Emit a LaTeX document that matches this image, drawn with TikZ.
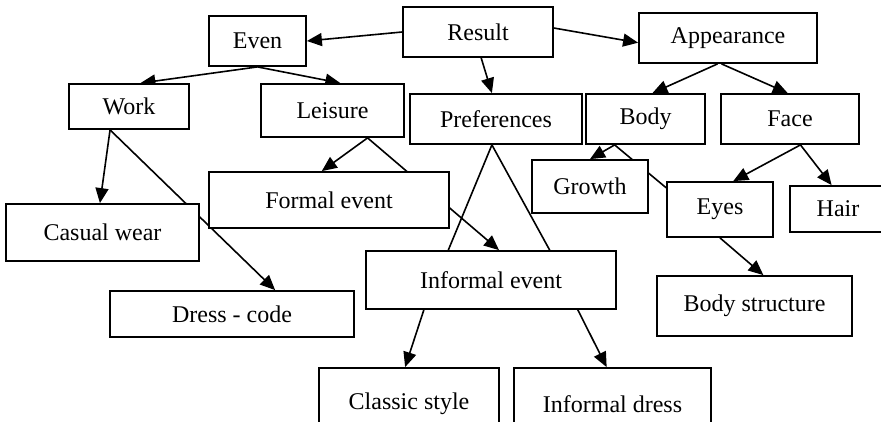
\documentclass[tikz,border=0pt]{standalone}
\usepackage{fontspec}
\setmainfont{Liberation Serif}
\usetikzlibrary{arrows.meta}
\pgfdeclarelayer{back}
\pgfsetlayers{back,main}

\begin{document}
\begin{tikzpicture}[x=1pt,y=-1pt,
  box/.style={draw,line width=1.8pt,fill=white,inner sep=0pt,font=\fontsize{24}{28}\selectfont},
  arr/.style={line width=1.6pt,-{Triangle[length=15pt,width=13pt]}},
  ln/.style={line width=1.6pt}]
\useasboundingbox (0,0) rectangle (881,421);
\clip (0,0) rectangle (881,421);
% top
\node[box,minimum width=150pt,minimum height=50pt] (result) at (478,32) {Result};
\node[box,minimum width=97pt,minimum height=50pt] (even) at (257.5,41) {Even};
\node[box,minimum width=178pt,minimum height=50pt] (appear) at (728,38) {Appearance};
% second row
\node[box,minimum width=120pt,minimum height=45pt] (work) at (129,106.5) {Work};
\node[box,minimum width=143pt,minimum height=53pt] (leisure) at (332.5,110.5) {Leisure};
\node[box,minimum width=172pt,minimum height=50pt] (pref) at (496,119) {Preferences};
\node[box,minimum width=119pt,minimum height=50pt] (body) at (645.5,119) {Body};
\node[box,minimum width=138pt,minimum height=50pt] (face) at (790,119) {Face};
% third row
\node[box,minimum width=116pt,minimum height=53pt] (growth) at (590,186.5) {Growth};
\node[box,minimum width=240pt,minimum height=56pt] (formal) at (329,200) {Formal event};
\node[box,minimum width=106pt,minimum height=55pt] (eyes) at (720,209.5) {Eyes};
\node[box,minimum width=96pt,minimum height=46pt] (hair) at (838,209) {Hair};
\node[box,minimum width=193pt,minimum height=57pt] (casual) at (102.5,232.5) {Casual wear};
% lower rows
\node[box,minimum width=250pt,minimum height=58pt] (informal) at (491,280) {Informal event};
\node[box,minimum width=195pt,minimum height=60pt] (bodystr) at (754.5,306) {Body structure};
\node[box,minimum width=244pt,minimum height=46pt] (dress) at (232,314) {Dress - code};
\node[box,minimum width=180pt,minimum height=72pt] (classic) at (409,404) {Classic style};
\node[box,minimum width=197pt,minimum height=72pt] (infdress) at (612.5,404) {Informal dress};

\begin{pgfonlayer}{back}
\draw[arr] (result.west) -- (even.east);
\draw[arr] (result.3) -- (appear.183);
\draw[arr] (result.277) -- (pref.99);
\draw[arr] (even.south) -- (work.64);
\draw[arr] (even.south) -- (leisure.74);
\draw[arr] (work.231) -- (casual.95);
\draw[arr] (work.231) -- (dress.29);
\draw[arr] (leisure.322) -- (formal.104);
\draw[arr] (leisure.322) -- (informal.75);
\draw[ln] (pref.261) -- (informal.145);
\draw[ln] (pref.261) -- (informal.27);
\draw[arr] (informal.204) -- (classic.96);
\draw[arr] (informal.341) -- (infdress.99);
\draw[arr] (appear.248) -- (body.75);
\draw[arr] (appear.256) -- (face.95);
\draw[arr] (body.220) -- (growth.north);
\draw[ln] (body.220) -- (eyes.158);
\draw[arr] (face.292) -- (eyes.65);
\draw[arr] (face.292) -- (hair.105);
\draw[arr] (eyes.south) -- (bodystr.74);
\end{pgfonlayer}
\end{tikzpicture}
\end{document}
